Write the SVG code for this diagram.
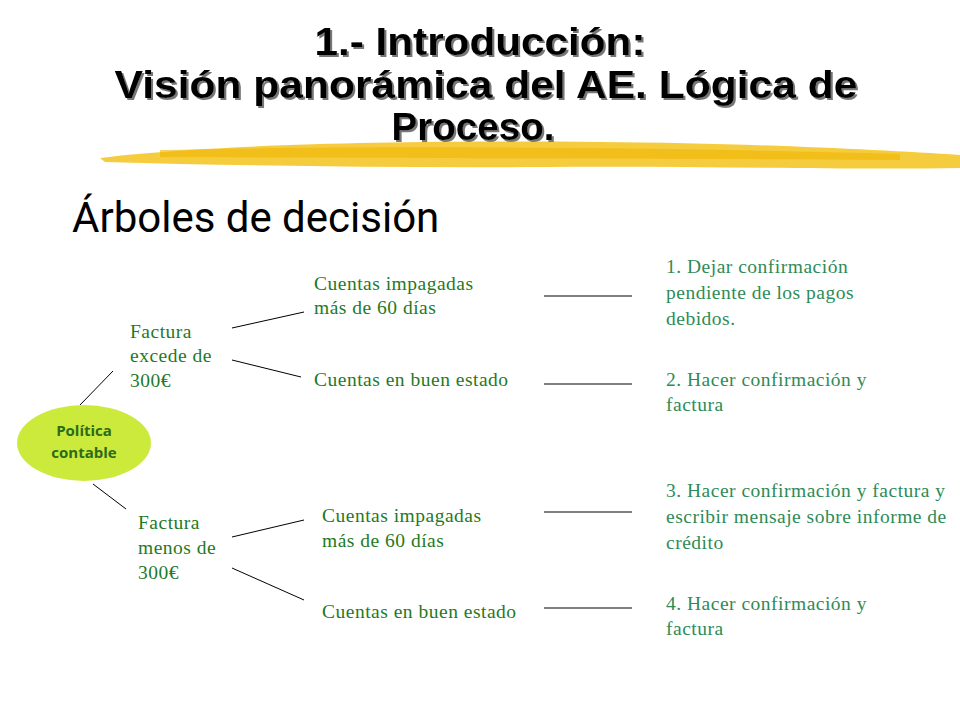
<svg xmlns="http://www.w3.org/2000/svg" width="960" height="720" viewBox="0 0 960 720">
<defs>
<filter id="sh" x="-5%" y="-20%" width="110%" height="140%"><feDropShadow dx="2" dy="2" stdDeviation="0.5" flood-color="#777"/></filter>
</defs>
<style>
.t{font-family:"Liberation Sans",Arial,sans-serif;font-weight:bold;font-size:39px;text-anchor:middle;fill:#000}
.m{font-family:"Liberation Serif","Times New Roman",serif;font-size:19.5px;fill:#1f7a1f;letter-spacing:0.5px}
.r{font-family:"Liberation Serif","Times New Roman",serif;font-size:19.5px;fill:#2e8b57;letter-spacing:0.5px}
.c line{stroke:#000;stroke-width:1}
</style>
<rect width="960" height="720" fill="#fff"/>
<path d="M100,158 C200,145 400,140 600,142 C750,143 880,150 960,155 L960,168 C850,170 700,166 550,167 C400,168 250,166 105,162 Z" fill="#f5c62a" opacity="0.9"/>
<path d="M160,150 C350,146 600,146 900,154 L900,160 C600,158 350,158 160,157 Z" fill="#f0b400" opacity="0.6"/>
<g class="t" filter="url(#sh)">
<text x="480" y="55" textLength="331" lengthAdjust="spacingAndGlyphs">1.- Introducción:</text>
<text x="486" y="98" textLength="743" lengthAdjust="spacingAndGlyphs">Visión panorámica del AE. Lógica de</text>
<text x="473" y="140" textLength="163" lengthAdjust="spacingAndGlyphs">Proceso.</text>
</g>
<text x="72" y="232" font-family="Roboto,'Liberation Sans',sans-serif" font-size="42" fill="#000">Árboles de decisión</text>
<g class="c">
<line x1="80" y1="405" x2="113" y2="371"/>
<line x1="93" y1="484" x2="126" y2="509"/>
<line x1="232" y1="328" x2="304" y2="312"/>
<line x1="232" y1="360" x2="301" y2="377"/>
<line x1="232" y1="537" x2="304" y2="520"/>
<line x1="232" y1="568" x2="304" y2="600"/>
<line x1="544" y1="296" x2="632" y2="296"/>
<line x1="544" y1="384" x2="632" y2="384"/>
<line x1="544" y1="512" x2="632" y2="512"/>
<line x1="544" y1="608" x2="632" y2="608"/>
</g>
<g id="politica">
<ellipse cx="84" cy="443" rx="67" ry="38" fill="#ccea3c"/>
<text font-family="'Open Sans','DejaVu Sans',sans-serif" font-weight="bold" font-size="15" fill="#2d6b1a" text-anchor="middle"><tspan x="84" y="436">Política</tspan><tspan x="84" y="458">contable</tspan></text>
</g>
<g id="excede"><text class="m"><tspan x="130" y="338">Factura</tspan><tspan x="130" y="362">excede de</tspan><tspan x="130" y="387">300€</tspan></text></g>
<g id="menos"><text class="m"><tspan x="138" y="529">Factura</tspan><tspan x="138" y="554">menos de</tspan><tspan x="138" y="579">300€</tspan></text></g>
<g id="n1"><text class="m"><tspan x="314" y="290">Cuentas impagadas</tspan><tspan x="314" y="314">más de 60 días</tspan></text></g>
<g id="n2"><text class="m" x="314" y="386">Cuentas en buen estado</text></g>
<g id="n3"><text class="m"><tspan x="322" y="522">Cuentas impagadas</tspan><tspan x="322" y="547">más de 60 días</tspan></text></g>
<g id="n4"><text class="m" x="322" y="618">Cuentas en buen estado</text></g>
<g id="r1"><text class="r"><tspan x="666" y="273">1. Dejar confirmación</tspan><tspan x="666" y="299">pendiente de los pagos</tspan><tspan x="666" y="325">debidos.</tspan></text></g>
<g id="r2"><text class="r"><tspan x="666" y="386">2. Hacer confirmación y</tspan><tspan x="666" y="411">factura</tspan></text></g>
<g id="r3"><text class="r"><tspan x="666" y="497">3. Hacer confirmación y factura y</tspan><tspan x="666" y="523">escribir mensaje sobre informe de</tspan><tspan x="666" y="549">crédito</tspan></text></g>
<g id="r4"><text class="r"><tspan x="666" y="610">4. Hacer confirmación y</tspan><tspan x="666" y="635">factura</tspan></text></g>
</svg>
